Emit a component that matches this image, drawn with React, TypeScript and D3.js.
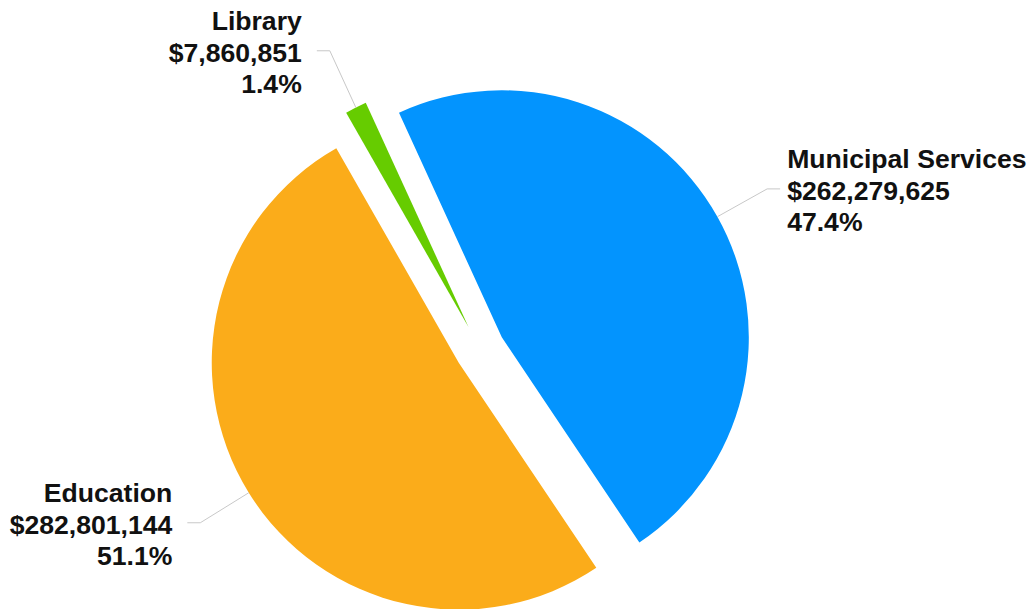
import React from "react";
import * as d3 from "d3";

const categories = ["Municipal Services", "Education", "Library"];
const values = [262279625, 282801144, 7860851];
const colors = ["#0394fe", "#fbac1a", "#66cc00"];

const W = 1032;
const H = 609;
const cx = 480;
const cy = 349.5;
const R = 247;
const EXPLODE = 25;
const START = (-24.6 * Math.PI) / 180;
const BEND_R = R + 57;
const HLEN = 13;
const FONT = 26.6;
const LINE = 31.5;
const LABEL_SHIFT = [0, 0, -6];

type Datum = { name: string; value: number; color: string };

export default function App() {
  const data: Datum[] = categories.map((c, i) => ({ name: c, value: values[i], color: colors[i] }));
  const total = d3.sum(values);
  const pie = d3
    .pie<Datum>()
    .sort(null)
    .value((d) => d.value)
    .startAngle(START)
    .endAngle(START + 2 * Math.PI);
  const arcs = pie(data);
  const arcGen = d3.arc<d3.PieArcDatum<Datum>>().innerRadius(0).outerRadius(R);
  const money = d3.format("$,.0f");
  const pct = d3.format(".1%");

  return (
    <svg
      width={W}
      height={H}
      style={{ position: "absolute", left: 0, top: 0, fontFamily: "'Liberation Sans', Arial, sans-serif" }}
    >
      <rect width={W} height={H} fill="#ffffff" />
      {arcs.map((a, i) => {
        const mid = (a.startAngle + a.endAngle) / 2;
        const ux = Math.sin(mid);
        const uy = -Math.cos(mid);
        const ox = cx + EXPLODE * ux;
        const oy = cy + EXPLODE * uy;
        return (
          <g key={"s" + i} transform={`translate(${ox},${oy})`}>
            <path d={arcGen(a) || ""} fill={a.data.color} stroke="none" />
          </g>
        );
      })}
      {arcs.map((a, i) => {
        const mid = (a.startAngle + a.endAngle) / 2;
        const ux = Math.sin(mid);
        const uy = -Math.cos(mid);
        const ox = cx + EXPLODE * ux;
        const oy = cy + EXPLODE * uy;
        const p0x = ox + R * ux;
        const p0y = oy + R * uy;
        const p1x = ox + BEND_R * ux;
        const p1y = oy + BEND_R * uy + LABEL_SHIFT[i];
        const right = ux >= 0;
        const p2x = p1x + (right ? HLEN : -HLEN);
        const tx = right ? p2x + 7 : p2x - 15;
        const anchor = right ? "start" : "end";
        const lines = [a.data.name, money(a.data.value), pct(a.data.value / total)];
        return (
          <g key={"l" + i}>
            <polyline
              points={`${p0x},${p0y} ${p1x},${p1y} ${p2x},${p1y}`}
              fill="none"
              stroke="#c8c8c8"
              strokeWidth={1}
            />
            {lines.map((t, j) => (
              <text
                key={j}
                x={tx}
                y={p1y - 20.5 + j * LINE}
                textAnchor={anchor}
                fontSize={FONT}
                fontWeight="bold"
                fill="#111111"
              >
                {t}
              </text>
            ))}
          </g>
        );
      })}
    </svg>
  );
}
